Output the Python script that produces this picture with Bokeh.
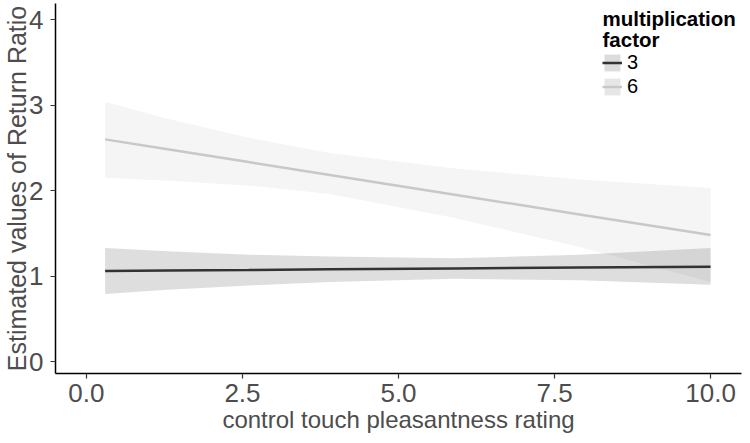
from bokeh.plotting import figure
from bokeh.models import Range1d, Legend, LegendItem, FixedTicker, NumeralTickFormatter, ColumnDataSource, Label
from bokeh.embed import file_html
from bokeh.resources import INLINE

# ---- data ----
x_vals = [0.3, 1.3, 2.6, 3.9, 5.9, 7.9, 10.0]

fit_3 = [1.06, 1.065, 1.07, 1.08, 1.09, 1.10, 1.11]
lo_3 = [0.79, 0.84, 0.89, 0.93, 0.97, 0.95, 0.90]
hi_3 = [1.33, 1.29, 1.25, 1.23, 1.21, 1.25, 1.33]

fit_6 = [2.60, 2.485, 2.334, 2.184, 1.953, 1.722, 1.48]
lo_6 = [2.15, 2.115, 2.06, 1.96, 1.68, 1.34, 0.93]
hi_6 = [3.04, 2.84, 2.62, 2.44, 2.26, 2.13, 2.03]

x_ticks = [0.0, 2.5, 5.0, 7.5, 10.0]
y_ticks = [0, 1, 2, 3, 4]
group_labels = ["3", "6"]
legend_title = ["multiplication", "factor"]

col_3 = "#333333"
col_6 = "#c8c8c8"
text_col = "#4d4d4d"
font = "Liberation Sans"

src = ColumnDataSource(dict(x=x_vals, fit3=fit_3, lo3=lo_3, hi3=hi_3,
                            fit6=fit_6, lo6=lo_6, hi6=hi_6))
# zero-width quads: invisible on the plot, only used as legend key backgrounds
key_src = ColumnDataSource(dict(x=x_vals[:1], lo3=lo_3[:1], hi3=hi_3[:1],
                                lo6=lo_6[:1], hi6=hi_6[:1]))

p = figure(width=742, height=435, output_backend="svg", toolbar_location=None,
           x_range=Range1d(-0.495, 10.495), y_range=Range1d(-0.14, 4.19),
           min_border_left=53, min_border_right=1, min_border_top=3,
           min_border_bottom=61, background_fill_color="white")
p.outline_line_color = None
p.xgrid.visible = False
p.ygrid.visible = False

key_bg3 = p.quad(left="x", right="x", bottom="lo3", top="hi3", source=key_src,
                 fill_color="#dcdcdc", line_color=None)
key_bg6 = p.quad(left="x", right="x", bottom="lo6", top="hi6", source=key_src,
                 fill_color="#e6e6e6", line_color=None)

band6 = p.varea(x="x", y1="lo6", y2="hi6", source=src, fill_color="#cccccc", fill_alpha=0.2)
band3 = p.varea(x="x", y1="lo3", y2="hi3", source=src, fill_color=col_3, fill_alpha=0.16)
line6 = p.line(x="x", y="fit6", source=src, line_color=col_6, line_width=2.5)
line3 = p.line(x="x", y="fit3", source=src, line_color=col_3, line_width=2.5)

for ax in (p.xaxis[0], p.yaxis[0]):
    ax.axis_line_color = "black"
    ax.axis_line_width = 1.5
    ax.major_tick_line_color = "#333333"
    ax.major_tick_line_width = 1.2
    ax.major_tick_out = 5
    ax.major_tick_in = 0
    ax.minor_tick_line_color = None
    ax.major_label_text_font = font
    ax.major_label_text_font_size = "26px"
    ax.major_label_text_color = text_col
    ax.axis_label_text_font = font
    ax.axis_label_text_font_style = "normal"
    ax.axis_label_text_color = text_col

p.xaxis.axis_label_text_font_size = "24px"
p.yaxis.axis_label_text_font_size = "25px"
p.xaxis.ticker = FixedTicker(ticks=x_ticks)
p.xaxis.formatter = NumeralTickFormatter(format="0.0")
p.yaxis.ticker = FixedTicker(ticks=y_ticks)
p.xaxis.axis_label = "control touch pleasantness rating"
p.yaxis.axis_label = "Estimated values of Return Ratio"
p.xaxis.major_label_standoff = 5
p.xaxis.axis_label_standoff = 1
p.yaxis.major_label_standoff = 7
p.yaxis.axis_label_standoff = -5

legend = Legend(items=[LegendItem(label=group_labels[0], renderers=[key_bg3, line3]),
                       LegendItem(label=group_labels[1], renderers=[key_bg6, line6])],
                location=(547, 275),
                label_text_font=font, label_text_font_size="20px", label_text_color="black",
                glyph_width=20, glyph_height=21, label_height=21, spacing=1,
                label_standoff=5, padding=0, margin=0,
                background_fill_alpha=0, border_line_color=None)
p.add_layout(legend, "center")

for txt, yy in zip(legend_title, (355, 334)):
    p.add_layout(Label(x=547, y=yy, x_units="screen", y_units="screen", text=txt,
                       text_font=font, text_font_size="20.5px", text_font_style="bold",
                       text_color="black", text_baseline="alphabetic", text_align="left"))

open("out.html", "w").write(file_html(p, INLINE))
